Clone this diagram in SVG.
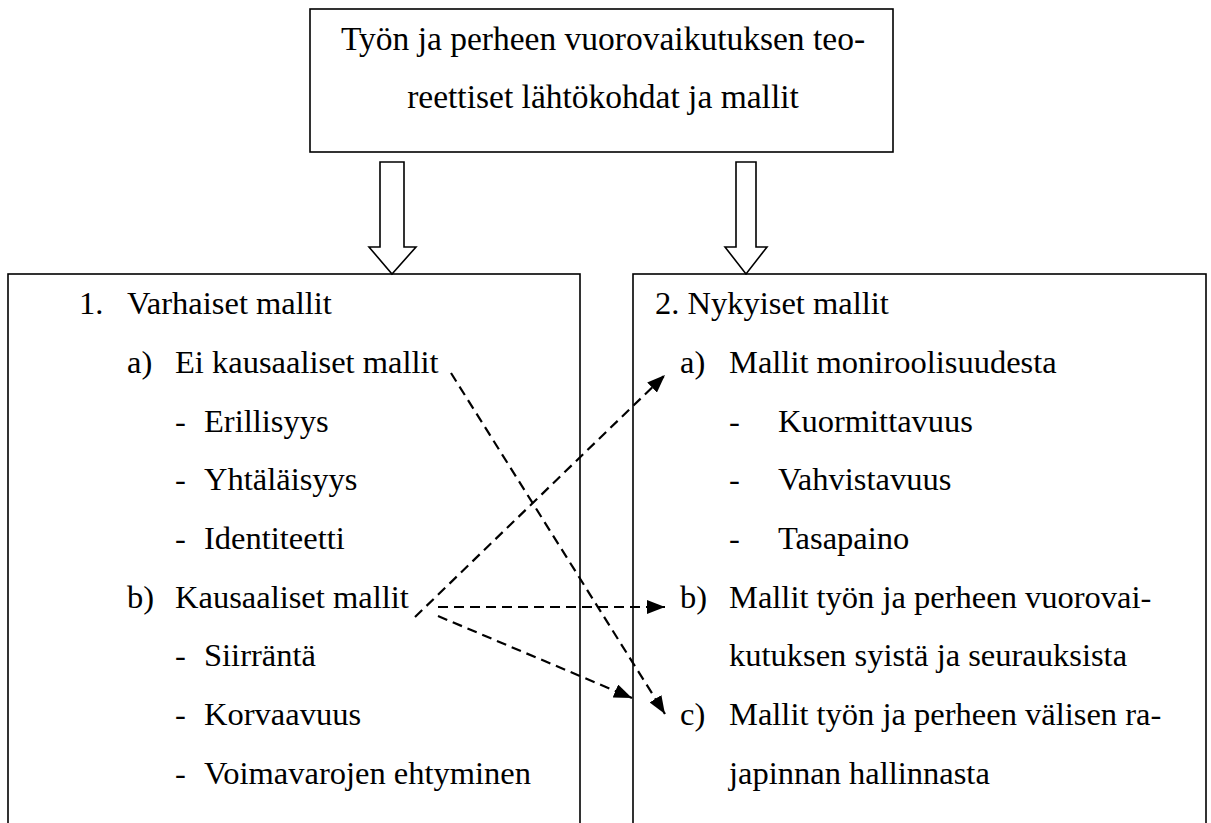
<svg xmlns="http://www.w3.org/2000/svg" width="1211" height="823" viewBox="0 0 1211 823">
<style>
  .box { fill: #ffffff; stroke: #000000; stroke-width: 1.6; }
  .hollow { fill: #ffffff; stroke: #000000; stroke-width: 1.6; stroke-linejoin: miter; }
  .t { font-family: "Liberation Serif", "DejaVu Serif", "Times New Roman", serif; font-size: 32.5px; fill: #000000; }
  .big { font-size: 33.5px; }
  .mid { text-anchor: middle; }
  .dash { fill: none; stroke: #000000; stroke-width: 2.2; stroke-dasharray: 10 6; }
</style>
<defs>
  <marker id="ah" viewBox="0 0 18 14" refX="18" refY="7" markerWidth="18" markerHeight="14" markerUnits="userSpaceOnUse" orient="auto">
    <path d="M0,0 L18,7 L0,14 Z" fill="#000000"/>
  </marker>
</defs>

<g id="top-node">
  <rect class="box" x="310" y="9" width="583" height="143"/>
  <text class="t big mid" x="603" y="50">Työn ja perheen vuorovaikutuksen teo-</text>
  <text class="t big mid" x="603" y="108">reettiset lähtökohdat ja mallit</text>
</g>

<g id="left-node">
  <rect class="box" x="8" y="274" width="572" height="570"/>
  <text class="t" x="79" y="314">1.</text>
  <text class="t" x="127" y="314">Varhaiset mallit</text>
  <text class="t" x="127" y="373">a)</text>
  <text class="t" x="175" y="373">Ei kausaaliset mallit</text>
  <text class="t" x="175" y="432">-</text>
  <text class="t" x="204" y="432">Erillisyys</text>
  <text class="t" x="175" y="490">-</text>
  <text class="t" x="204" y="490">Yhtäläisyys</text>
  <text class="t" x="175" y="549">-</text>
  <text class="t" x="204" y="549">Identiteetti</text>
  <text class="t" x="127" y="608">b)</text>
  <text class="t" x="175" y="608">Kausaaliset mallit</text>
  <text class="t" x="175" y="666">-</text>
  <text class="t" x="204" y="666">Siirräntä</text>
  <text class="t" x="175" y="725">-</text>
  <text class="t" x="204" y="725">Korvaavuus</text>
  <text class="t" x="175" y="784">-</text>
  <text class="t" x="204" y="784">Voimavarojen ehtyminen</text>
</g>

<g id="right-node">
  <rect class="box" x="633" y="274" width="573" height="570"/>
  <text class="t" x="655" y="314">2. Nykyiset mallit</text>
  <text class="t" x="680" y="373">a)</text>
  <text class="t" x="729" y="373">Mallit moniroolisuudesta</text>
  <text class="t" x="729" y="432">-</text>
  <text class="t" x="778" y="432">Kuormittavuus</text>
  <text class="t" x="729" y="490">-</text>
  <text class="t" x="778" y="490">Vahvistavuus</text>
  <text class="t" x="729" y="549">-</text>
  <text class="t" x="778" y="549">Tasapaino</text>
  <text class="t" x="680" y="608">b)</text>
  <text class="t" x="729" y="608">Mallit työn ja perheen vuorovai-</text>
  <text class="t" x="729" y="666">kutuksen syistä ja seurauksista</text>
  <text class="t" x="680" y="725">c)</text>
  <text class="t" x="729" y="725">Mallit työn ja perheen välisen ra-</text>
  <text class="t" x="729" y="784">japinnan hallinnasta</text>
</g>

<g id="connectors">
  <polygon class="hollow" points="380,162 404,162 404,247 416,247 392,274 369,247 380,247"/>
  <polygon class="hollow" points="736,162 756,162 756,247 767,247 746,274 725,247 736,247"/>
  <line class="dash" x1="451" y1="373" x2="665" y2="714" marker-end="url(#ah)"/>
  <line class="dash" x1="415" y1="617" x2="665" y2="375" marker-end="url(#ah)"/>
  <line class="dash" x1="438" y1="607" x2="665" y2="607" marker-end="url(#ah)"/>
  <line class="dash" x1="438" y1="616" x2="632" y2="698" marker-end="url(#ah)"/>
</g>
</svg>
